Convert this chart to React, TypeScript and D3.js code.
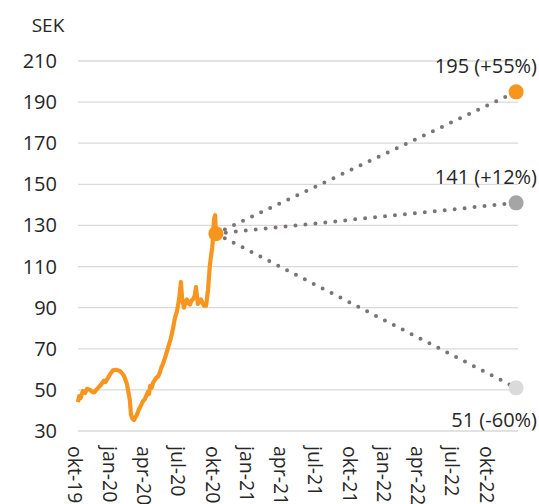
import React from 'react';
import * as d3 from 'd3';

// share price (SEK)
const priceDates = [
  '2019-10-01', '2019-10-04', '2019-10-08', '2019-10-14', '2019-10-20', '2019-10-25', '2019-11-02',
  '2019-11-08', '2019-11-13', '2019-11-21', '2019-12-01', '2019-12-09', '2019-12-13', '2019-12-17',
  '2019-12-25', '2020-01-02', '2020-01-10', '2020-01-21', '2020-01-31', '2020-02-08', '2020-02-16',
  '2020-02-19', '2020-02-23', '2020-02-27', '2020-03-06', '2020-03-11', '2020-03-17', '2020-03-22',
  '2020-03-27', '2020-04-04', '2020-04-07', '2020-04-10', '2020-04-14', '2020-04-18', '2020-04-26',
  '2020-05-01', '2020-05-06', '2020-05-10', '2020-05-14', '2020-05-22', '2020-05-26', '2020-05-30',
  '2020-06-04', '2020-06-10', '2020-06-15', '2020-06-20', '2020-06-26', '2020-07-01', '2020-07-04',
  '2020-07-09', '2020-07-13', '2020-07-17', '2020-07-21', '2020-07-25', '2020-07-29', '2020-08-02',
  '2020-08-07', '2020-08-10', '2020-08-15', '2020-08-19', '2020-08-23', '2020-08-31', '2020-09-06',
  '2020-09-11', '2020-09-16', '2020-09-22', '2020-09-24', '2020-09-27', '2020-09-30', '2020-10-02',
];
const priceValues = [
  44, 47, 46, 49.5, 48.5, 50.5, 50,
  49, 48.8, 50.5, 52.5, 54.5, 53.8, 55,
  57.5, 59.5, 59.8, 59.2, 57, 53, 45,
  38, 36, 35.3, 38, 40.5, 42.6, 44.5,
  45.5, 49, 48, 52, 51, 53.5, 55.8,
  56.5, 58.5, 61, 62.5, 67, 69.5, 72,
  75, 80, 85, 88, 94, 102.5, 94.5,
  90, 93, 94, 92, 91.5, 93.5, 94,
  96, 100, 91.8, 93, 94, 91, 91,
  98.6, 110.8, 119, 123, 133, 135, 126,
];

const currentDate = '2020-10-02';
const currentValue = 126;

// analyst scenarios at the end of the horizon
const targetDate = '2022-12-10';
const targetValues = [195, 141, 51];
const targetLabels = ['195 (+55%)', '141 (+12%)', '51 (-60%)'];
const targetColors = ['#F7951F', '#A5A5A5', '#DADADA'];

const yTicks = [30, 50, 70, 90, 110, 130, 150, 170, 190, 210];
const xTickDates = [
  '2019-10-01', '2020-01-01', '2020-04-01', '2020-07-01', '2020-10-01', '2021-01-01', '2021-04-01',
  '2021-07-01', '2021-10-01', '2022-01-01', '2022-04-01', '2022-07-01', '2022-10-01',
];
const xTickLabels = [
  'okt-19', 'jan-20', 'apr-20', 'jul-20', 'okt-20', 'jan-21', 'apr-21',
  'jul-21', 'okt-21', 'jan-22', 'apr-22', 'jul-22', 'okt-22',
];

const W = 539;
const H = 504;
const FONT = "'Open Sans', 'Noto Sans', sans-serif";
const TEXT = '#262626';

const App = () => {
  const parse = d3.utcParse('%Y-%m-%d');

  const x = d3.scaleUtc()
    .domain([parse('2019-10-01'), parse('2022-12-15')])
    .range([78, 518]);
  const y = d3.scaleLinear().domain([30, 210]).range([431, 61]);

  const series = priceDates.map((d, i) => ({ date: parse(d), value: priceValues[i] }));
  const line = d3.line<any>()
    .x(d => x(d.date))
    .y(d => y(d.value))
    .curve(d3.curveLinear);

  const cx = x(parse(currentDate));
  const cy = y(currentValue);
  const tx = x(parse(targetDate));

  return (
    <svg width={W} height={H} style={{ position: 'absolute', left: 0, top: 0, background: '#fff' }}
      fontFamily={FONT}>
      {/* gridlines */}
      {yTicks.map(t => (
        <line key={t} x1={78} x2={518} y1={y(t)} y2={y(t)} stroke="#D9D9D9" strokeWidth={1.3} />
      ))}
      {/* y labels */}
      {yTicks.map(t => (
        <text key={'l' + t} x={57} y={y(t)} dy="0.35em" textAnchor="end" fontSize={20} fill={TEXT}>{t}</text>
      ))}
      <text x={48} y={32} textAnchor="middle" fontSize={19} fill={TEXT}>SEK</text>

      {/* x labels, rotated */}
      {xTickDates.map((d, i) => {
        const px = x(parse(d)) - 3;
        return (
          <text key={d} transform={`translate(${px},446) rotate(90)`} dy="0.35em" textAnchor="start"
            fontSize={19.5} fill={TEXT}>{xTickLabels[i]}</text>
        );
      })}

      {/* dotted scenario lines */}
      {targetValues.map(v => (
        <line key={'d' + v} x1={cx} y1={cy} x2={tx} y2={y(v)} stroke="#7A7575" strokeWidth={4}
          strokeLinecap="round" strokeDasharray="0 10" />
      ))}

      {/* price */}
      <path d={line(series) || ''} fill="none" stroke="#F7951F" strokeWidth={4.2} strokeLinejoin="round" />
      <circle cx={cx} cy={cy} r={7.5} fill="#F7951F" />

      {/* targets */}
      {targetValues.map((v, i) => (
        <circle key={'c' + v} cx={tx} cy={y(v)} r={7.5} fill={targetColors[i]} />
      ))}
      {targetValues.map((v, i) => (
        <text key={'t' + v} x={537} y={i === 2 ? y(v) + 32 : y(v) - 26} dy="0.35em" textAnchor="end"
          fontSize={20} fill={TEXT}>{targetLabels[i]}</text>
      ))}
    </svg>
  );
};

export default App;
